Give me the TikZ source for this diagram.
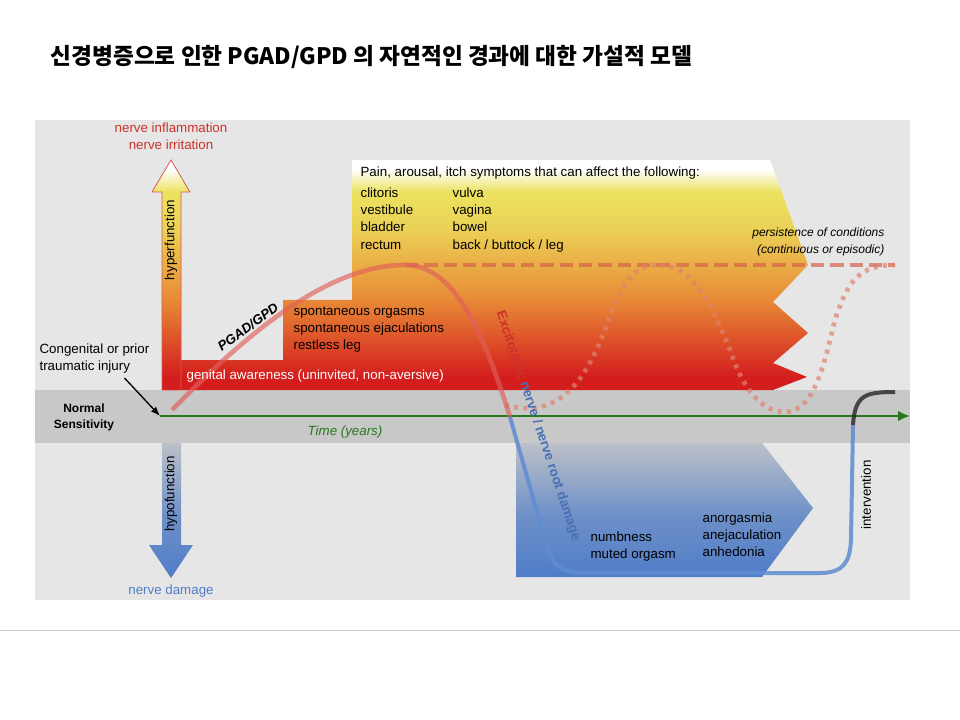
\documentclass[tikz,border=0pt]{standalone}
\usepackage{fontspec}
\setmainfont{Liberation Sans}
\newfontfamily\krfont{Noto Sans CJK KR}
\usetikzlibrary{arrows.meta, positioning}
\definecolor{panelGray}{RGB}{230, 230, 230}
\definecolor{bandGray}{RGB}{200, 200, 200}
\definecolor{timeGreen}{RGB}{40, 120, 30}
\definecolor{hyperRed}{RGB}{205, 50, 45}
\definecolor{hypoBlue}{RGB}{80, 125, 200}
\definecolor{curveRed}{RGB}{225, 95, 90}
\definecolor{curveBlue}{RGB}{95, 140, 210}
\definecolor{dashRed}{RGB}{215, 100, 75}
\definecolor{shadeRed}{RGB}{212, 30, 30}
\definecolor{shadeOrange}{RGB}{232, 140, 55}
\definecolor{shadeYellow}{RGB}{236, 226, 95}
\pgfdeclareverticalshading{hyperShade}{100bp}{color(0bp)=(shadeRed); color(28bp)=(shadeRed); color(45bp)=(shadeOrange); color(60bp)=(shadeYellow!80!shadeOrange); color(68bp)=(shadeYellow); color(73bp)=(white); color(100bp)=(white)}
\pgfdeclareverticalshading{hypoShade}{100bp}{color(0bp)=(hypoBlue); color(25bp)=(hypoBlue); color(48bp)=(hypoBlue!75!bandGray); color(75bp)=(bandGray!90!hypoBlue); color(100bp)=(bandGray!90!hypoBlue)}
\tikzset{
    % Text Styles
    label/.style={font=\fontsize{10}{13}\selectfont, inner sep=1pt},
    listText/.style={label, align=left, anchor=north west},
    % Curve Styles
    pgadLine/.style={line width=3.5pt, draw=curveRed, opacity=0.65},
    damageLine/.style={line width=3pt, draw=curveBlue, opacity=0.85},
    persistLine/.style={line width=3pt, draw=dashRed, opacity=0.7, dash pattern=on 10pt off 4.5pt},
    episodeLine/.style={line width=3.5pt, draw=dashRed!80!white, opacity=0.7, dash pattern=on 3pt off 4pt}
}
\begin{document}
\begin{tikzpicture}[x=0.75pt, y=-0.75pt]
    \useasboundingbox (0,0) rectangle (960,720);

    % --- Title ---
    \node (title) [anchor=west, font=\krfont\bfseries\fontsize{17}{19}\selectfont] at (46,57)
        {신경병증으로 인한 PGAD/GPD 의 자연적인 경과에 대한 가설적 모델};
    \draw [gray!40] (0,630) -- (960,630);

    % --- Panel and band ---
    \fill [panelGray] (35,120) rectangle (910,600);
    \fill [bandGray] (35,390) rectangle (910,443);

    % --- Hyperfunction region ---
    \shade [shading=hyperShade] (162,390) -- (162,192) -- (181,192) -- (181,360) -- (283,360) -- (283,300)
        -- (352,300) -- (352,160) -- (770,160) -- (808,265) -- (773,302) -- (808,333) -- (773,363)
        -- (807,377) -- (773,390) -- cycle;
    \shade [shading=hyperShade, draw=hyperRed!80, line width=0.6pt] (162,390) -- (162,192) -- (152,192)
        -- (171,160) -- (190,192) -- (181,192) -- (181,390);

    % --- Hypofunction region ---
    \shade [shading=hypoShade] (516,443) -- (762,443) -- (813,508) -- (762,577) -- (516,577) -- cycle;
    \shade [shading=hypoShade] (162,443) -- (181,443) -- (181,545) -- (193,545) -- (171,578)
        -- (149,545) -- (162,545) -- cycle;

    % --- Time axis ---
    \coordinate (tStart) at (160,416);
    \coordinate (tEnd) at (910,416);
    \draw [timeGreen, line width=2.2pt, -{Latex[length=9pt, width=8pt]}] (tStart) -- (tEnd);

    % --- Curves ---
    \draw [persistLine] (405,265) -- (895,265);
    \draw [episodeLine] (505,405) .. controls (560,420) and (585,380) .. (605,330)
        .. controls (625,270) and (640,265) .. (660,265) .. controls (690,265) and (710,300) .. (730,350)
        .. controls (745,395) and (765,412) .. (785,412) .. controls (815,412) and (825,360) .. (835,320)
        .. controls (848,280) and (860,265) .. (895,265);
    \draw [pgadLine] (tStart) ++(12,-6) .. controls (250,330) and (330,265) .. (405,265)
        .. controls (450,265) and (480,320) .. (510,417);
    \draw [damageLine] (510,417) -- (545,540) .. controls (552,565) and (560,573) .. (585,573)
        -- (820,573) .. controls (845,573) and (850,560) .. (851,540) -- (853,425);
    \draw [line width=3pt, gray!30!black, opacity=0.8] (853,425) .. controls (855,395) and (865,392) .. (895,392);

    % --- Left labels ---
    \node (inflam) [label, text=hyperRed, align=center] at (171,136) {nerve inflammation\\nerve irritation};
    \node (hyper) [label, rotate=90] at (171,240) {hyperfunction};
    \node (hypo) [label, rotate=90] at (171,494) {hypofunction};
    \node (damage) [label, text=hypoBlue] at (171,591) {nerve damage};
    \node (injury) [listText] at (38,342) {Congenital or prior\\traumatic injury};
    \node (normal) [label, font=\bfseries\fontsize{9}{12}\selectfont, align=center] at (84,417) {Normal\\Sensitivity};
    \draw [-{Latex[length=7pt]}, line width=1pt] (injury.south) ++(30,3) -- (tStart);
    \node (time) [label, text=timeGreen, font=\itshape\fontsize{10}{13}\selectfont] at (345,432) {Time (years)};

    % --- Upper region labels ---
    \node (pgad) [label, font=\bfseries\itshape\fontsize{10}{13}\selectfont, rotate=36] at (248,327) {PGAD/GPD};
    \node (aware) [label, text=white, anchor=west] at (185,376) {genital awareness (uninvited, non-aversive)};
    \node (spont) [listText] at (292,305) {spontaneous orgasms\\spontaneous ejaculations\\restless leg};
    \node (pain) [label, anchor=west] at (359,173) {Pain, arousal, itch symptoms that can affect the following:};
    \node (colA) [listText] at (359,186) {clitoris\\vestibule\\bladder\\rectum};
    \node (colB) [listText] at (451,186) {vulva\\vagina\\bowel\\back / buttock / leg};
    \node (persist) [label, font=\itshape\fontsize{9}{12.5}\selectfont, align=right, anchor=east] at (886,242)
        {persistence of conditions\\(continuous or episodic)};
    \node (excito) [label, font=\bfseries\fontsize{10}{13}\selectfont, rotate=-71.5] at (538,426)
        {\textcolor{hyperRed}{Excitotoxic} \textcolor{hypoBlue!90!black}{nerve / nerve root damage}};

    % --- Lower region labels ---
    \node (numb) [listText] at (589,530) {numbness\\muted orgasm};
    \node (anorg) [listText] at (701,511) {anorgasmia\\anejaculation\\anhedonia};
    \node (interv) [label, rotate=90] at (866,495) {intervention};
\end{tikzpicture}
\end{document}
